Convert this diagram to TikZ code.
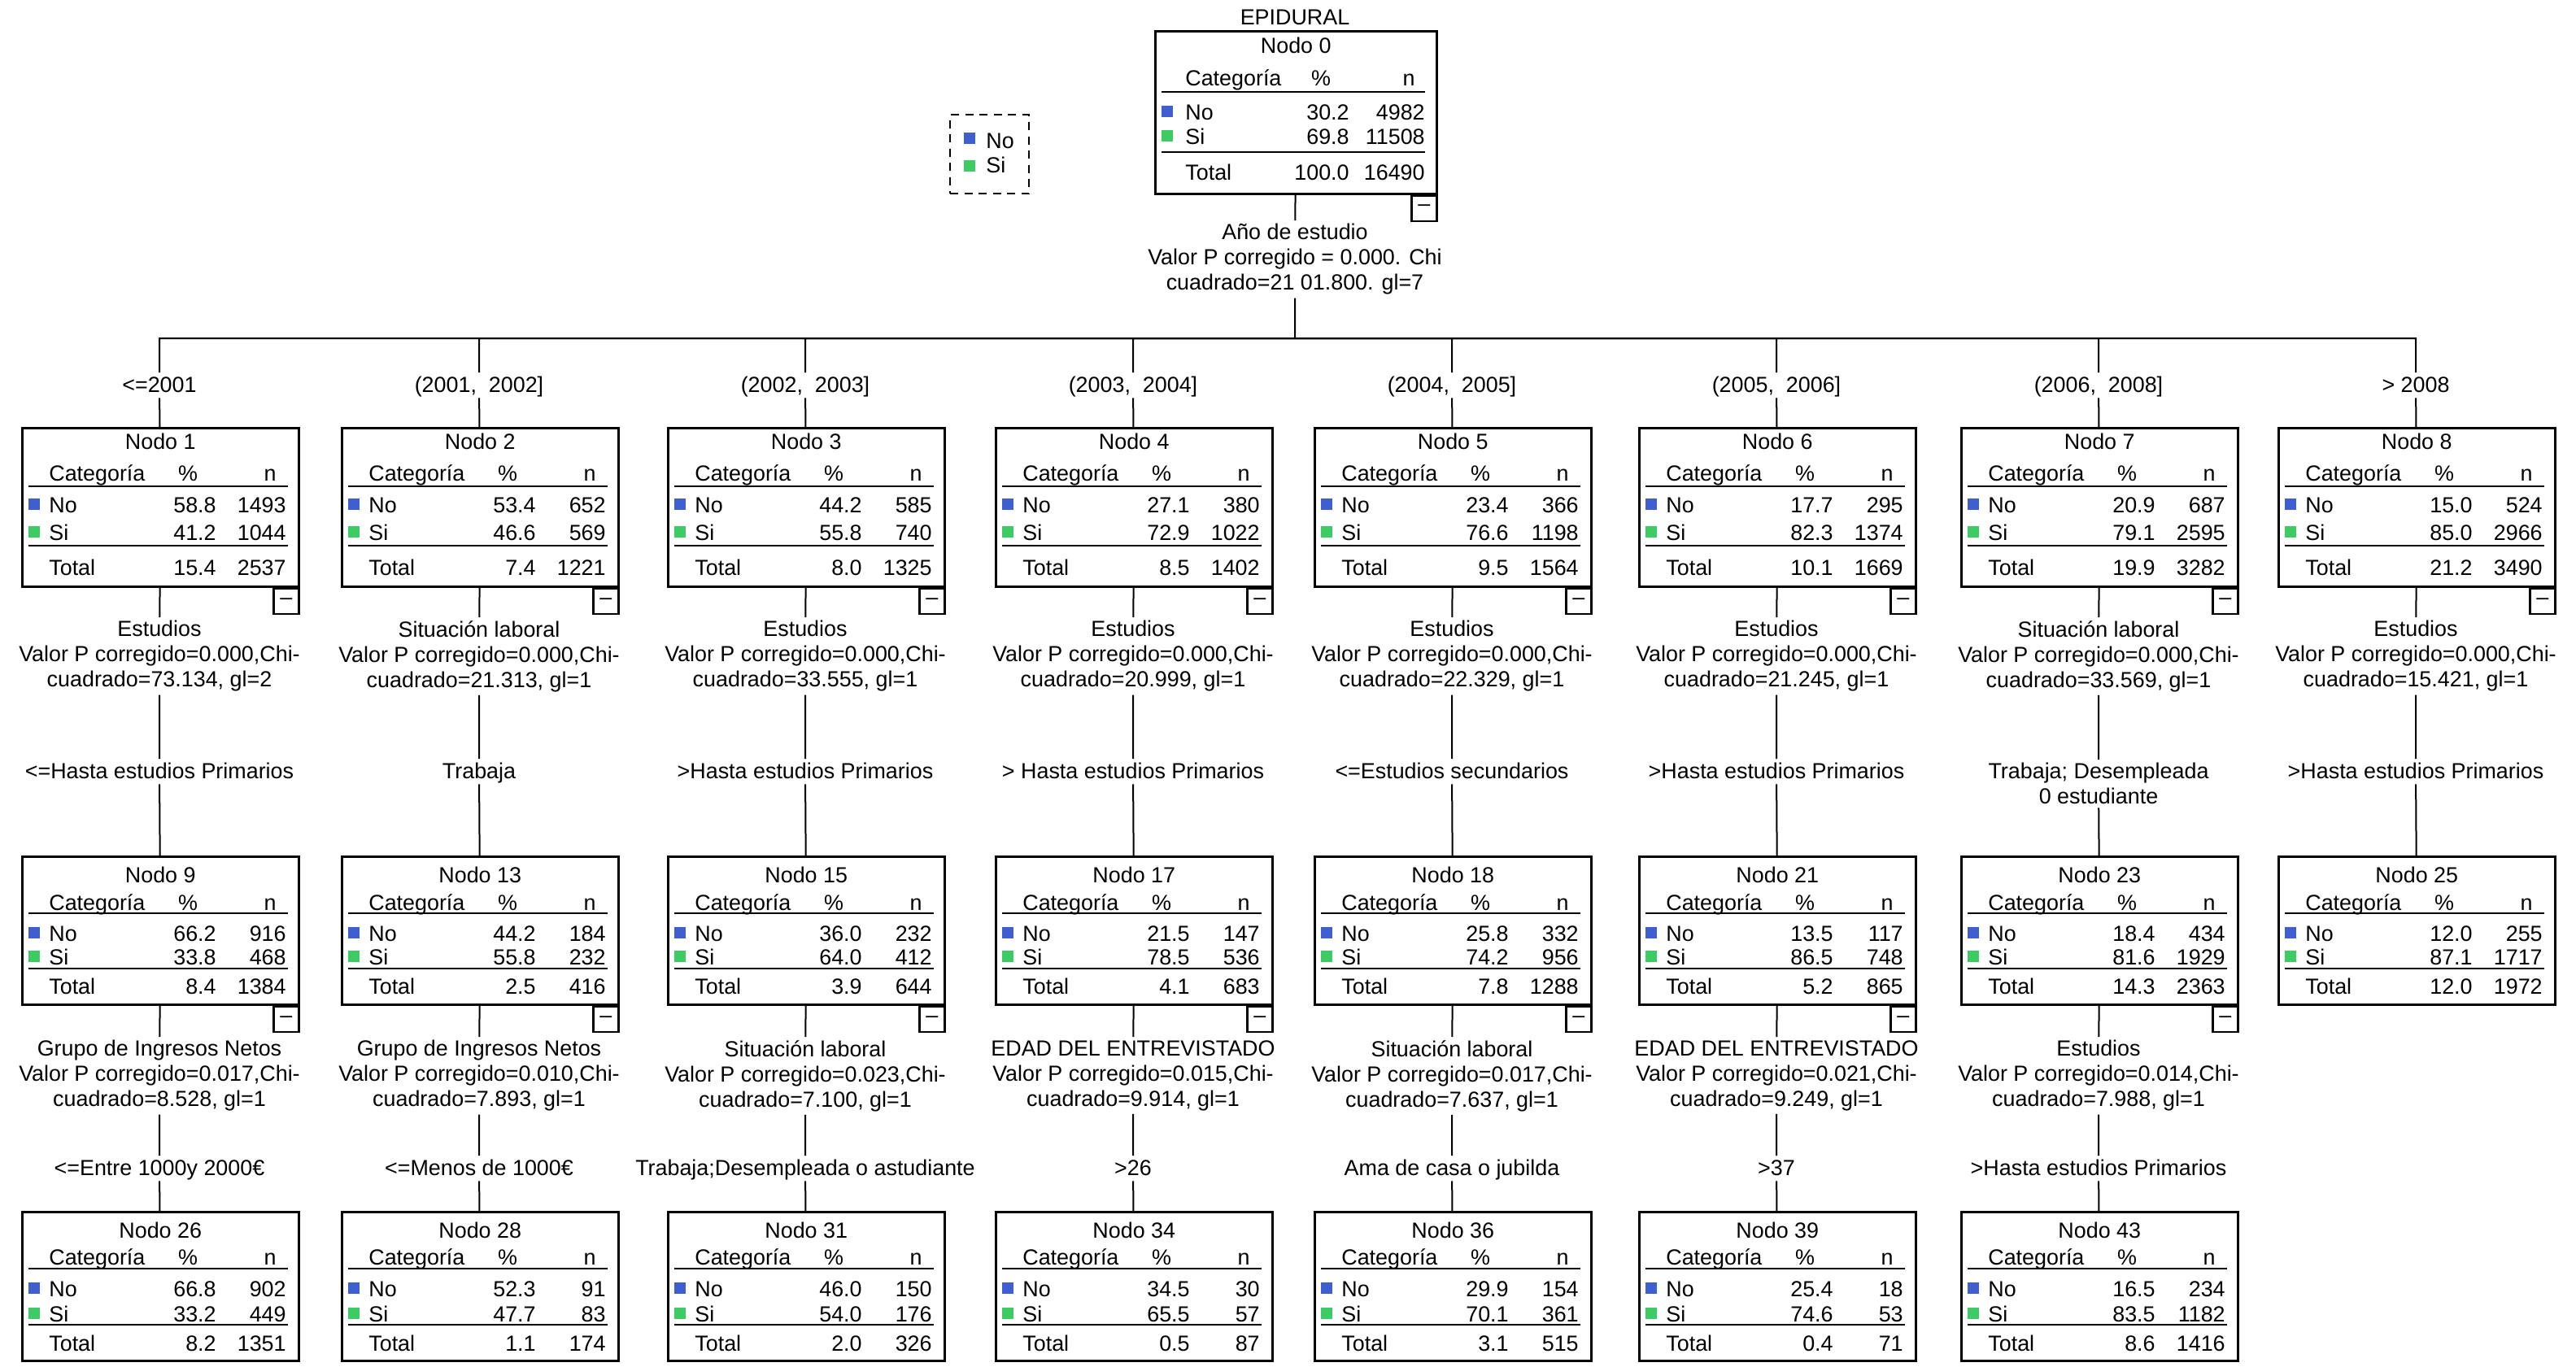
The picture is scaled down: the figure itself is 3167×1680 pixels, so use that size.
\documentclass[tikz,border=0pt]{standalone}
\usepackage{fontspec}
\setmainfont{Liberation Sans}
\usepackage{tikz}

\definecolor{azulNo}{RGB}{63,95,208}
\definecolor{verdeSi}{RGB}{61,203,99}

\tikzset{
	caja/.style = {draw, line width=0.5mm, minimum width=68mm, minimum height=#1, inner sep=0pt, anchor=north west},
	menos/.style = {draw, line width=0.45mm, minimum width=6.2mm, minimum height=6.2mm, inner sep=0pt, anchor=north east},
	celda/.style = {inner sep=0pt},
	regla/.style = {line width=0.5mm},
	corte/.style = {align=center, inner sep=0.8mm, anchor=north},
	rama/.style = {inner sep=0.8mm, text height=3.9mm, text depth=0.6mm, anchor=base},
	linea/.style = {line width=0.4mm}
}

% contenido de una caja: nombre, numero, % y n de No, Si y Total
\newcommand{\tabla}[8]{
	\node[celda, anchor=base] (#1-tit) at ([shift={(0,\yN)}]#1.north) {Nodo #2};
	\node[celda, anchor=base west] (#1-cat) at ([shift={(\xc,\yH)}]#1.north west) {Categoría};
	\node[celda, anchor=base] (#1-pc) at ([shift={(205,\yH)}]#1.north west) {\%};
	\node[celda, anchor=base east] (#1-n) at ([shift={(\xn-12,\yH)}]#1.north west) {n};
	\draw[regla] ([shift={(9,\yA)}]#1.north west) -- ++(\xl,0);
	\fill[azulNo] ([shift={(9,\yNo-17)}]#1.north west) rectangle ++(14,14);
	\node[celda, anchor=base west] (#1-no) at ([shift={(\xc,\yNo)}]#1.north west) {No};
	\node[celda, anchor=base east] (#1-nop) at ([shift={(240,\yNo)}]#1.north west) {#3};
	\node[celda, anchor=base east] (#1-non) at ([shift={(\xn,\yNo)}]#1.north west) {#4};
	\fill[verdeSi] ([shift={(9,\ySi-17)}]#1.north west) rectangle ++(14,14);
	\node[celda, anchor=base west] (#1-si) at ([shift={(\xc,\ySi)}]#1.north west) {Si};
	\node[celda, anchor=base east] (#1-sip) at ([shift={(240,\ySi)}]#1.north west) {#5};
	\node[celda, anchor=base east] (#1-sin) at ([shift={(\xn,\ySi)}]#1.north west) {#6};
	\draw[regla] ([shift={(9,\yB)}]#1.north west) -- ++(\xl,0);
	\node[celda, anchor=base west] (#1-to) at ([shift={(\xc,\yT)}]#1.north west) {Total};
	\node[celda, anchor=base east] (#1-top) at ([shift={(240,\yT)}]#1.north west) {#7};
	\node[celda, anchor=base east] (#1-ton) at ([shift={(\xn,\yT)}]#1.north west) {#8};
}

\begin{document}
\begin{tikzpicture}[x=0.2mm, y=-0.2mm, every node/.style={font=\fontsize{15.3}{17.6}\selectfont}]
\useasboundingbox (0,0) rectangle (3167,1680);

\node (titulo) at (1592,21) {EPIDURAL};

% leyenda
\node[draw, line width=0.4mm, dash pattern=on 2mm off 1.5mm, minimum width=19.4mm, minimum height=19.4mm, anchor=north west] (leyenda) at (1167,140) {};
\fill[azulNo] (1185,163) rectangle ++(14,14);
\node[celda, anchor=base west] (leyNo) at (1212,182) {No};
\fill[verdeSi] (1185,197) rectangle ++(14,14);
\node[celda, anchor=base west] (leySi) at (1212,212) {Si};

% nodo raiz
\def\xc{38}\def\xn{333}\def\xl{324}
\def\yN{28}\def\yH{68}\def\yA{76}\def\yNo{110}\def\ySi{140}\def\yB{150}\def\yT{184}
\node[caja=40mm, minimum width=69.2mm] (n0) at (1419,37) {};
\node[menos] (m0) at (n0.south east) {–};
\tabla{n0}{0}{30.2}{4982}{69.8}{11508}{100.0}{16490}

\node[corte] (s0) at (1592,271) {Año de estudio\\Valor P corregido = 0.000. Chi\\cuadrado=21 01.800. gl=7};
\coordinate (barra) at (1592,416);

\node[rama] (r1) at (196,482) {<=2001};
\node[rama] (r2) at (589,482) {(2001, \ 2002]};
\node[rama] (r3) at (990,482) {(2002, \ 2003]};
\node[rama] (r4) at (1393,482) {(2003, \ 2004]};
\node[rama] (r5) at (1785,482) {(2004, \ 2005]};
\node[rama] (r6) at (2184,482) {(2005, \ 2006]};
\node[rama] (r7) at (2580,482) {(2006, \ 2008]};
\node[rama] (r8) at (2970,482) {> 2008};

% primer nivel
\def\xc{34}\def\xn{326}\def\xl{319}
\def\yN{27}\def\yH{66}\def\yA{73}\def\yNo{105}\def\ySi{139}\def\yB{146}\def\yT{182}
\foreach \k/\cx/\pNo/\nNo/\pSi/\nSi/\pTo/\nTo in {1/196/58.8/1493/41.2/1044/15.4/2537,
	2/589/53.4/652/46.6/569/7.4/1221, 3/990/44.2/585/55.8/740/8.0/1325,
	4/1393/27.1/380/72.9/1022/8.5/1402, 5/1785/23.4/366/76.6/1198/9.5/1564,
	6/2184/17.7/295/82.3/1374/10.1/1669, 7/2580/20.9/687/79.1/2595/19.9/3282,
	8/2970/15.0/524/85.0/2966/21.2/3490}{
	\node[caja=39mm] (n\k) at (\cx-170,525) {};
	\node[menos] (m\k) at (n\k.south east) {–};
	\tabla{n\k}{\k}{\pNo}{\nNo}{\pSi}{\nSi}{\pTo}{\nTo}
}

\node[corte] (s1) at (196,759) {Estudios\\Valor P corregido=0.000,Chi-\\cuadrado=73.134, gl=2};
\node[corte] (s2) at (589,759) {Situación laboral\\Valor P corregido=0.000,Chi-\\cuadrado=21.313, gl=1};
\node[corte] (s3) at (990,759) {Estudios\\Valor P corregido=0.000,Chi-\\cuadrado=33.555, gl=1};
\node[corte] (s4) at (1393,759) {Estudios\\Valor P corregido=0.000,Chi-\\cuadrado=20.999, gl=1};
\node[corte] (s5) at (1785,759) {Estudios\\Valor P corregido=0.000,Chi-\\cuadrado=22.329, gl=1};
\node[corte] (s6) at (2184,759) {Estudios\\Valor P corregido=0.000,Chi-\\cuadrado=21.245, gl=1};
\node[corte] (s7) at (2580,759) {Situación laboral\\Valor P corregido=0.000,Chi-\\cuadrado=33.569, gl=1};
\node[corte] (s8) at (2970,759) {Estudios\\Valor P corregido=0.000,Chi-\\cuadrado=15.421, gl=1};

\node[rama] (r9) at (196,957) {<=Hasta estudios Primarios};
\node[rama] (r13) at (589,957) {Trabaja};
\node[rama] (r15) at (990,957) {>Hasta estudios Primarios};
\node[rama] (r17) at (1393,957) {> Hasta estudios Primarios};
\node[rama] (r18) at (1785,957) {<=Estudios secundarios};
\node[rama] (r21) at (2184,957) {>Hasta estudios Primarios};
\node[corte] (r23) at (2580,934) {Trabaja; Desempleada\\0 estudiante};
\node[rama] (r25) at (2970,957) {>Hasta estudios Primarios};

% segundo nivel
\def\yN{33}\def\yH{67}\def\yA{71}\def\yNo{105}\def\ySi{134}\def\yB{139}\def\yT{170}
\foreach \k/\cx/\pNo/\nNo/\pSi/\nSi/\pTo/\nTo in {9/196/66.2/916/33.8/468/8.4/1384,
	13/589/44.2/184/55.8/232/2.5/416, 15/990/36.0/232/64.0/412/3.9/644,
	17/1393/21.5/147/78.5/536/4.1/683, 18/1785/25.8/332/74.2/956/7.8/1288,
	21/2184/13.5/117/86.5/748/5.2/865, 23/2580/18.4/434/81.6/1929/14.3/2363,
	25/2970/12.0/255/87.1/1717/12.0/1972}{
	\node[caja=36.4mm] (n\k) at (\cx-170,1052) {};
	\tabla{n\k}{\k}{\pNo}{\nNo}{\pSi}{\nSi}{\pTo}{\nTo}
}
\foreach \k in {9,13,15,17,18,21,23}
	\node[menos] (m\k) at (n\k.south east) {–};

\node[corte] (s9) at (196,1275) {Grupo de Ingresos Netos\\Valor P corregido=0.017,Chi-\\cuadrado=8.528, gl=1};
\node[corte] (s13) at (589,1275) {Grupo de Ingresos Netos\\Valor P corregido=0.010,Chi-\\cuadrado=7.893, gl=1};
\node[corte] (s15) at (990,1275) {Situación laboral\\Valor P corregido=0.023,Chi-\\cuadrado=7.100, gl=1};
\node[corte] (s17) at (1393,1275) {EDAD DEL ENTREVISTADO\\Valor P corregido=0.015,Chi-\\cuadrado=9.914, gl=1};
\node[corte] (s18) at (1785,1275) {Situación laboral\\Valor P corregido=0.017,Chi-\\cuadrado=7.637, gl=1};
\node[corte] (s21) at (2184,1275) {EDAD DEL ENTREVISTADO\\Valor P corregido=0.021,Chi-\\cuadrado=9.249, gl=1};
\node[corte] (s23) at (2580,1275) {Estudios\\Valor P corregido=0.014,Chi-\\cuadrado=7.988, gl=1};

\node[rama] (r26) at (196,1445) {<=Entre 1000y 2000€};
\node[rama] (r28) at (589,1445) {<=Menos de 1000€};
\node[rama] (r31) at (990,1445) {Trabaja;Desempleada o astudiante};
\node[rama] (r34) at (1393,1445) {>26};
\node[rama] (r36) at (1785,1445) {Ama de casa o jubilda};
\node[rama] (r39) at (2184,1445) {>37};
\node[rama] (r43) at (2580,1445) {>Hasta estudios Primarios};

% tercer nivel
\def\yN{33}\def\yH{66}\def\yA{71}\def\yNo{105}\def\ySi{136}\def\yB{140}\def\yT{172}
\foreach \k/\cx/\pNo/\nNo/\pSi/\nSi/\pTo/\nTo in {26/196/66.8/902/33.2/449/8.2/1351,
	28/589/52.3/91/47.7/83/1.1/174, 31/990/46.0/150/54.0/176/2.0/326,
	34/1393/34.5/30/65.5/57/0.5/87, 36/1785/29.9/154/70.1/361/3.1/515,
	39/2184/25.4/18/74.6/53/0.4/71, 43/2580/16.5/234/83.5/1182/8.6/1416}{
	\node[caja=36.6mm] (n\k) at (\cx-170,1489) {};
	\tabla{n\k}{\k}{\pNo}{\nNo}{\pSi}{\nSi}{\pTo}{\nTo}
}

% conectores
\draw[linea] (n0) -- (s0) (s0) -- (barra);
\foreach \k in {1,...,8}
	\draw[linea] (barra) -| (r\k) (r\k) -- (n\k);
\foreach \k/\h in {1/9,2/13,3/15,4/17,5/18,6/21,7/23,8/25,9/26,13/28,15/31,17/34,18/36,21/39,23/43}
	\draw[linea] (n\k) -- (s\k) (s\k) -- (r\h) (r\h) -- (n\h);

\end{tikzpicture}
\end{document}
